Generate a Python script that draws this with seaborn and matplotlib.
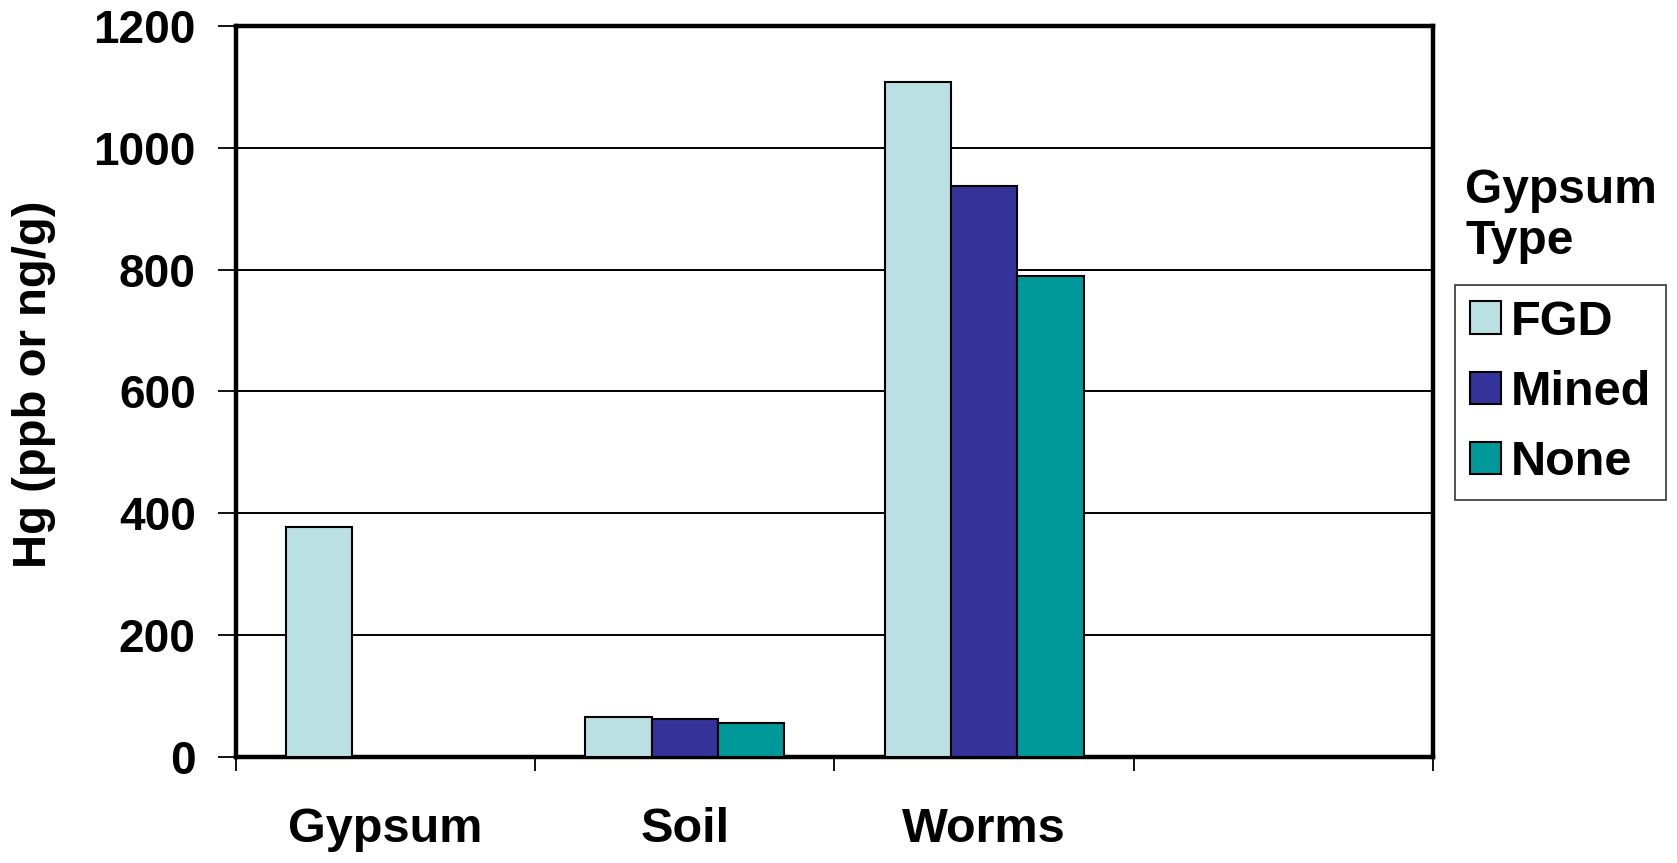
import numpy as np
import pandas as pd
import matplotlib
matplotlib.use("Agg")
import matplotlib.pyplot as plt
import seaborn as sns

# Mercury concentrations by sample medium and gypsum treatment
categories = ["Gypsum", "Soil", "Worms"]
gypsum_types = ["FGD", "Mined", "None"]
fgd_values = [378, 66, 1108]
mined_values = [np.nan, 63, 937]
none_values = [np.nan, 56, 790]
y_ticks = [0, 200, 400, 600, 800, 1000, 1200]
colors = ["#BBE0E3", "#333399", "#009999"]

rows = []
for t, vals in zip(gypsum_types, [fgd_values, mined_values, none_values]):
    for c, v in zip(categories, vals):
        rows.append({"Medium": c, "Gypsum Type": t, "Hg": v})
df = pd.DataFrame(rows)

sns.set_theme(style="white")
plt.rcParams["font.family"] = ["Liberation Sans", "DejaVu Sans"]
plt.rcParams["font.weight"] = "bold"
plt.rcParams["text.color"] = "black"
plt.rcParams["axes.labelcolor"] = "black"
plt.rcParams["xtick.color"] = "black"
plt.rcParams["ytick.color"] = "black"

fig = plt.figure(figsize=(16.77, 8.63), dpi=100)
ax = fig.add_axes([0.1407, 0.1228, 0.7138, 0.8472])

sns.barplot(data=df, x="Medium", y="Hg", hue="Gypsum Type",
            order=categories, hue_order=gypsum_types, palette=colors,
            width=0.665, gap=0, edgecolor="black", linewidth=1.5,
            saturation=1, errorbar=None, ax=ax, legend=False, zorder=3)

ax.set_xlim(-0.5, 3.5)
ax.set_ylim(0, 1200)
ax.set_yticks(y_ticks)
ax.set_yticklabels([str(v) for v in y_ticks], fontsize=33, fontweight="bold")
ax.yaxis.grid(True, color="black", linewidth=1.4)
ax.set_axisbelow(True)
ax.tick_params(axis="y", direction="out", length=13, width=1.3,
               pad=16, color="black", labelcolor="black", left=True)

# category boundaries as major ticks, names centred as minor ticks
ax.set_xticks([-0.5, 0.5, 1.5, 2.5, 3.5])
ax.set_xticklabels([])
ax.set_xticks([0, 1, 2], minor=True)
ax.set_xticklabels(categories, minor=True, fontsize=35, fontweight="bold")
ax.tick_params(axis="x", which="major", direction="out", length=10,
               width=1.3, color="black", bottom=True)
ax.tick_params(axis="x", which="minor", length=0, pad=36, bottom=True,
               labelcolor="black")

ax.set_xlabel("")
ax.set_ylabel("Hg (ppb or ng/g)", fontsize=34, fontweight="bold", color="black")
ax.yaxis.set_label_coords(-0.150, 0.51)

for s in ax.spines.values():
    s.set_visible(True)
    s.set_color("black")
    s.set_linewidth(3.2)

handles = [plt.Rectangle((0, 0), 1, 1, facecolor=c, edgecolor="black",
                         linewidth=1.5) for c in colors]
leg = fig.legend(handles, gypsum_types, loc="upper left",
                 bbox_to_anchor=(0.8676, 0.6698), bbox_transform=fig.transFigure,
                 borderaxespad=0, frameon=True, fancybox=False,
                 prop={"size": 35, "weight": "bold"},
                 handlelength=0.65, handleheight=0.65, handletextpad=0.2,
                 labelspacing=0.52, borderpad=0.3)
leg.get_frame().set_edgecolor("black")
leg.get_frame().set_linewidth(1.2)
for t in leg.get_texts():
    t.set_color("black")

fig.text(0.8736, 0.805, "Gypsum\nType", fontsize=34.5, fontweight="bold",
         va="top", ha="left", color="black", linespacing=1.15)

fig.savefig("out.png", dpi=100, facecolor="white")
